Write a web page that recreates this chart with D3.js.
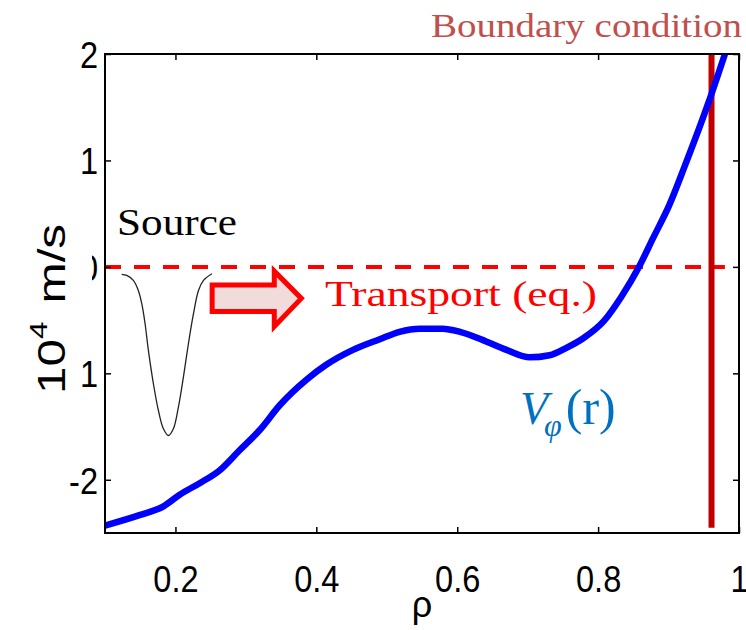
<!DOCTYPE html>
<html>
<head>
<meta charset="utf-8">
<script src="https://cdn.jsdelivr.net/npm/d3@7"></script>
<style>
    html, body { margin: 0; padding: 0; background: #fff; }
    svg { display: block; }
</style>
</head>
<body>
<svg id="chart"></svg>
<script>
// Rotation profile V_phi(rho), in 10^4 m/s
const rho = [0.100, 0.150, 0.183, 0.206, 0.235, 0.263, 0.290, 0.320, 0.348, 0.386, 0.414, 0.452,
             0.490, 0.518, 0.547, 0.579, 0.604, 0.641, 0.670, 0.703, 0.731, 0.755, 0.779, 0.808,
             0.833, 0.858, 0.878, 0.901, 0.922, 0.957, 0.980];
const vphi = [-2.43, -2.33, -2.25, -2.14, -2.03, -1.91, -1.73, -1.53, -1.30, -1.06, -0.92, -0.78,
              -0.68, -0.61, -0.58, -0.58, -0.61, -0.70, -0.78, -0.85, -0.83, -0.76, -0.67, -0.51,
              -0.28, 0.00, 0.27, 0.58, 0.93, 1.55, 2.00];

// Source profile (sketch)
const srcRho = [0.1237, 0.1309, 0.1402, 0.1473, 0.1522, 0.1569, 0.1616, 0.1687, 0.1758, 0.1829,
                0.1900, 0.1971, 0.2042, 0.2113, 0.2184, 0.2256, 0.2327, 0.2398, 0.2517];
const srcVal = [-0.07, -0.08, -0.127, -0.221, -0.346, -0.534, -0.785, -1.098, -1.349, -1.521,
                -1.584, -1.521, -1.318, -1.036, -0.722, -0.440, -0.221, -0.127, -0.064];

const xTicks = [0.2, 0.4, 0.6, 0.8, 1];
const yTicks = [-2, -1, 0, 1, 2];
const xDomain = [0.1, 1];
const yDomain = [-2.5, 2];

// reference line and boundary marker
const zeroLine = [0.1, 0.98];
const boundaryRho = 0.961;
const boundaryRange = [-2.45, 2];

// transport arrow, in data units
const arrowRho = [0.2521, 0.3403, 0.3787];
const arrowBody = [-0.17, -0.42];
const arrowHead = [-0.04, -0.56];
const arrowMid = -0.296;

const width = 746;
const height = 630;
const margin = { top: 54, right: 7, bottom: 97, left: 105 };

const svg = d3.select("#chart")
    .attr("width", width)
    .attr("height", height);

const x = d3.scaleLinear().domain(xDomain).range([margin.left, width - margin.right]);
const y = d3.scaleLinear().domain(yDomain).range([height - margin.bottom, margin.top]);

const tickFont = "'Liberation Sans', Arial, sans-serif";
const serifFont = "'Liberation Serif', 'DejaVu Serif', serif";

// Zero dashed line
svg.append("line")
    .attr("x1", x(zeroLine[0]))
    .attr("x2", x(zeroLine[1]))
    .attr("y1", y(0))
    .attr("y2", y(0))
    .attr("stroke", "#ff0000")
    .attr("stroke-width", 4)
    .attr("stroke-dasharray", "16,13");

// Source curve
const srcLine = d3.line()
    .x((d, i) => x(srcRho[i]))
    .y(d => y(d))
    .curve(d3.curveCatmullRom);

svg.append("path")
    .attr("d", srcLine(srcVal))
    .attr("fill", "none")
    .attr("stroke", "#222")
    .attr("stroke-width", 1.3);

// Transport arrow
const arrowPts = [
    [arrowRho[0], arrowBody[0]],
    [arrowRho[1], arrowBody[0]],
    [arrowRho[1], arrowHead[0]],
    [arrowRho[2], arrowMid],
    [arrowRho[1], arrowHead[1]],
    [arrowRho[1], arrowBody[1]],
    [arrowRho[0], arrowBody[1]]
];
svg.append("polygon")
    .attr("points", arrowPts.map(p => `${x(p[0])},${y(p[1])}`).join(" "))
    .attr("fill", "#f2dcdb")
    .attr("stroke", "#ff0000")
    .attr("stroke-width", 5)
    .attr("stroke-linejoin", "miter");

// Boundary vertical line
svg.append("line")
    .attr("x1", x(boundaryRho))
    .attr("x2", x(boundaryRho))
    .attr("y1", y(boundaryRange[0]))
    .attr("y2", y(boundaryRange[1]))
    .attr("stroke", "#c00000")
    .attr("stroke-width", 6);

// Blue profile
const vLine = d3.line()
    .x((d, i) => x(rho[i]))
    .y(d => y(d))
    .curve(d3.curveMonotoneX);

svg.append("path")
    .attr("d", vLine(vphi))
    .attr("fill", "none")
    .attr("stroke", "#0000ff")
    .attr("stroke-width", 6.5)
    .attr("stroke-linejoin", "round");

// Axes box with inward ticks
const axisG = svg.append("g");
const bottomAxis = d3.axisBottom(x).tickValues(xTicks).tickSize(-6).tickFormat(d => String(d));
const topAxis = d3.axisTop(x).tickValues(xTicks).tickSize(-6).tickFormat("");
const leftAxis = d3.axisLeft(y).tickValues(yTicks).tickSize(-6).tickFormat(d => String(d));
const rightAxis = d3.axisRight(y).tickValues(yTicks).tickSize(-6).tickFormat("");

// narrow the Arial-like glyphs a bit, like the original
function condense(sel, k) {
    sel.each(function() {
        const w = this.getComputedTextLength();
        this.setAttribute("textLength", w * k);
        this.setAttribute("lengthAdjust", "spacingAndGlyphs");
    });
}

function styleAxis(g) {
    g.select(".domain").remove();
    g.selectAll(".tick line").attr("stroke", "#000").attr("stroke-width", 1.5);
    g.selectAll(".tick text")
        .attr("font-family", tickFont)
        .attr("font-size", 37)
        .attr("fill", "#000");
}

axisG.append("g")
    .attr("transform", `translate(0,${height - margin.bottom})`)
    .call(bottomAxis)
    .call(styleAxis)
    .call(g => g.selectAll(".tick text").attr("dy", null).attr("y", 59))
    .call(g => condense(g.selectAll(".tick text"), 0.88));

axisG.append("g")
    .attr("transform", `translate(0,${margin.top})`)
    .call(topAxis)
    .call(styleAxis);

axisG.append("g")
    .attr("transform", `translate(${margin.left},0)`)
    .call(leftAxis)
    .call(styleAxis)
    .call(g => g.selectAll(".tick text").attr("x", -7).attr("dy", "0.36em"))
    .call(g => condense(g.selectAll(".tick text"), 0.88));

axisG.append("g")
    .attr("transform", `translate(${width - margin.right},0)`)
    .call(rightAxis)
    .call(styleAxis);

svg.append("rect")
    .attr("x", margin.left)
    .attr("y", margin.top)
    .attr("width", width - margin.left - margin.right)
    .attr("height", height - margin.top - margin.bottom)
    .attr("fill", "none")
    .attr("stroke", "#000")
    .attr("stroke-width", 2);

// Y label (its white backing box hides part of the tick labels, as in the original)
svg.append("rect").attr("x", 28).attr("y", 185).attr("width", 64).attr("height", 150).attr("fill", "#fff");
svg.append("rect").attr("x", 28).attr("y", 335).attr("width", 52).attr("height", 65).attr("fill", "#fff");

const yLabel = svg.append("text")
    .attr("transform", "translate(65,394) rotate(-90) scale(1.3,1)")
    .attr("font-family", tickFont)
    .attr("font-size", 38)
    .attr("fill", "#000");
yLabel.append("tspan").text("10");
yLabel.append("tspan").attr("font-size", 24).attr("dy", -18).text("4");
yLabel.append("tspan").attr("dy", 18).attr("dx", 14).text("m/s");

// X label
svg.append("text")
    .attr("x", x(0.55))
    .attr("y", 617)
    .attr("text-anchor", "middle")
    .attr("font-family", tickFont)
    .attr("font-size", 36)
    .text("ρ");

// Annotations
svg.append("text")
    .attr("x", 431).attr("y", 37)
    .attr("font-family", serifFont)
    .attr("font-size", 34)
    .attr("fill", "#c0504d")
    .attr("textLength", 311)
    .attr("lengthAdjust", "spacingAndGlyphs")
    .text("Boundary condition");

svg.append("text")
    .attr("x", 117).attr("y", 235)
    .attr("font-family", serifFont)
    .attr("font-size", 38)
    .attr("fill", "#000")
    .attr("textLength", 120)
    .attr("lengthAdjust", "spacingAndGlyphs")
    .text("Source");

svg.append("text")
    .attr("x", 325).attr("y", 306)
    .attr("font-family", serifFont)
    .attr("font-size", 35)
    .attr("fill", "#ff0000")
    .attr("textLength", 272)
    .attr("lengthAdjust", "spacingAndGlyphs")
    .text("Transport (eq.)");

const vLabel = svg.append("text")
    .attr("x", 520).attr("y", 424)
    .attr("font-family", serifFont)
    .attr("font-size", 50)
    .attr("fill", "#0070c0");
vLabel.append("tspan").attr("font-style", "italic").attr("font-size", 46).text("V");
vLabel.append("tspan").attr("font-style", "italic").attr("font-size", 32).attr("dy", 12).attr("dx", -4).text("φ");
vLabel.append("tspan").attr("dy", -12).attr("dx", 4).text("(r)");
</script>
</body>
</html>
